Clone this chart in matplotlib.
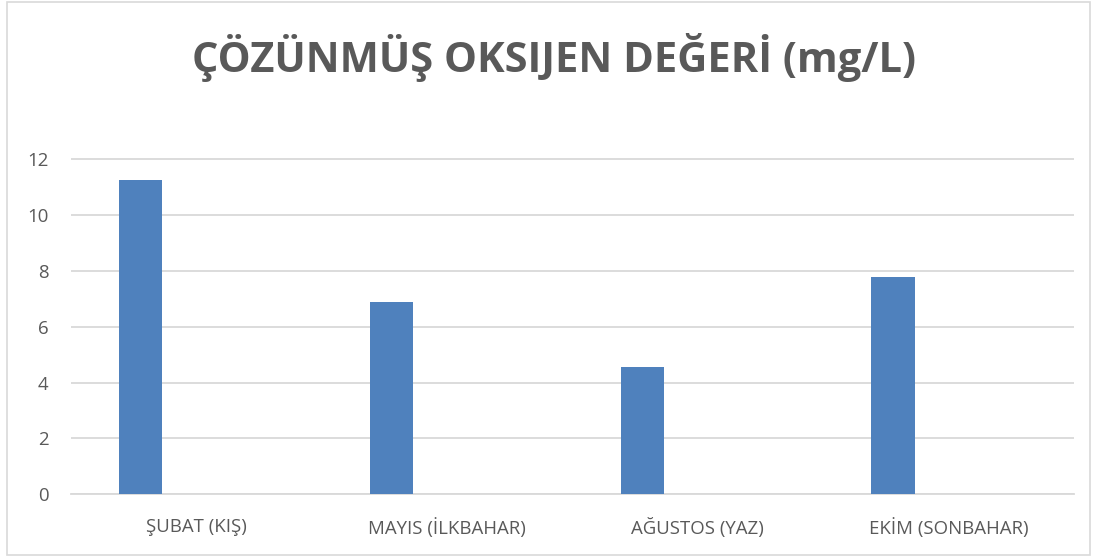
import numpy as np
import matplotlib
matplotlib.use("Agg")
import matplotlib.pyplot as plt
from matplotlib.patches import Rectangle

# veriler
mevsimler = ["ŞUBAT (KIŞ)", "MAYIS (İLKBAHAR)", "AĞUSTOS (YAZ)", "EKİM (SONBAHAR)"]
oksijen = [11.25, 6.9, 4.56, 7.8]
y_ticks = [0, 2, 4, 6, 8, 10, 12]
baslik = "ÇÖZÜNMÜŞ OKSIJEN DEĞERİ (mg/L)"

yazi_rengi = "#595959"
izgara_rengi = "#d9d9d9"
cubuk_rengi = "#4f81bd"

plt.rcParams['font.family'] = ['Open Sans', 'DejaVu Sans']

W, H = 1095, 557
fig = plt.figure(figsize=(W / 100, H / 100), dpi=100)

# cizim alani (piksel olcumlerinden)
sol, sag = 70.7, 1074.0
alt, ust = 494.3, 157.9
ax = fig.add_axes([sol / W, 1 - alt / H, (sag - sol) / W, (alt - ust) / H])

x = np.arange(len(mevsimler))
ax.bar(x - 0.221, oksijen, width=0.173, color=cubuk_rengi, zorder=3)

ax.set_xlim(-0.5, len(mevsimler) - 0.5)
ax.set_ylim(0, 12.05)
ax.set_yticks(y_ticks)
ax.set_xticks(x)
ax.set_xticklabels(mevsimler)

ax.yaxis.grid(True, color=izgara_rengi, linewidth=1.3, zorder=0)
ax.set_axisbelow(True)
for s in ["top", "right", "left"]:
    ax.spines[s].set_visible(False)
ax.spines["bottom"].set_color(izgara_rengi)
ax.spines["bottom"].set_linewidth(1.3)

ax.tick_params(axis="both", length=0, labelsize=13.4, labelcolor=yazi_rengi)
ax.tick_params(axis="y", pad=16)
ax.tick_params(axis="x", pad=17)

fig.text(0.506, 1 - 57 / H, baslik, ha="center", va="center",
         fontsize=30, fontweight="bold", color=yazi_rengi)

# grafik cercevesi
fig.patches.append(Rectangle((7 / W, 2 / H), (1090 - 7) / W, (H - 4) / H,
                             transform=fig.transFigure, fill=False,
                             edgecolor=izgara_rengi, linewidth=1.2))

fig.savefig("out.png", dpi=100, facecolor="white")
